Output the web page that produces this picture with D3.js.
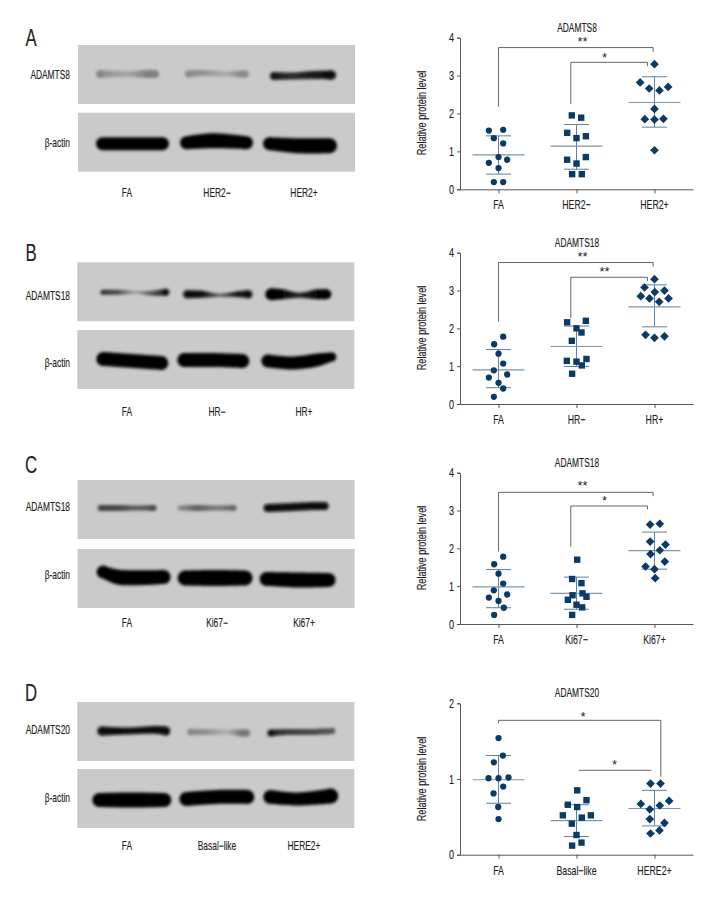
<!DOCTYPE html>
<html><head><meta charset="utf-8">
<script src="https://cdn.jsdelivr.net/npm/d3@7"></script>
<style>
html,body{margin:0;padding:0;background:#fff}
svg{display:block}
text{font-family:"Liberation Sans",Arimo,sans-serif;fill:#1f1f1f;stroke:#1f1f1f;stroke-width:.15px}
</style></head><body>
<svg id="c" width="720" height="900"></svg>
<script>
// ---------- Scatter data ----------
const catsA = ["FA","HER2−","HER2+"], catsB = ["FA","HR−","HR+"], catsC = ["FA","Ki67−","Ki67+"], catsD = ["FA","Basal−like","HERE2+"];
const titles = ["ADAMTS8","ADAMTS18","ADAMTS18","ADAMTS20"];
const letters = ["A","B","C","D"];

const a0 = [1.55,1.57,1.35,1.21,.85,.70,.78,.56,.19,.19];
const a1 = [1.95,1.89,1.49,1.35,1.40,.85,.78,.68,.40,.40];
const a2 = [3.30,2.82,2.66,2.61,2.70,2.12,1.85,1.84,1.86,1.03];
const a0j = [-.124,.06,-.06,.06,0,-.124,.111,0,-.06,.06];
const a1j = [-.06,.06,-.12,0,.12,.12,-.12,0,-.056,.068];
const a2j = [0,-.184,-.068,.064,.175,0,-.124,0,.115,0];

const b0 = [1.78,1.58,1.33,1.07,.89,.70,.78,.56,.41,.19];
const b1 = [2.16,2.20,2.00,1.89,1.67,1.19,1.14,1.12,1.02,.80];
const b2 = [3.30,3.08,3.00,2.96,2.85,2.79,2.79,2.70,1.83,1.79,1.75];
const b0j = [.06,-.056,0,.06,-.06,-.124,.111,0,.06,-.06];
const b1j = [-.12,.12,0,.064,-.06,.128,-.124,0,.068,-.056];
const b2j = [0,-.128,.128,.004,-.175,-.064,.18,.06,-.115,.128,0];

const c0 = [1.78,1.58,1.33,1.07,.89,.70,.78,.61,.43,.24];
const c1 = [1.70,1.19,1.08,.76,.81,.72,.64,.51,.44,.24];
const c2 = [2.63,2.65,2.18,2.10,1.95,1.85,1.65,1.52,1.45,1.21];
const c0j = [.06,-.056,0,.06,-.06,-.124,.111,0,.068,-.056];
const c1j = [.009,-.056,.064,-.051,.077,.128,-.111,0,.073,-.056];
const c2j = [-.056,.068,-.056,.141,.068,-.051,.132,-.115,0,.009];

const d0 = [1.54,1.31,1.22,1.01,1.01,1.02,.90,.81,.63,.47];
const d1 = [.85,.72,.66,.63,.52,.52,.49,.41,.26,.16,.12];
const d2 = [.94,.94,.71,.67,.65,.60,.47,.42,.32,.28];
const d0j = [0,.056,-.06,-.128,0,.128,.06,-.064,-.004,0];
const d1j = [.009,.128,-.111,.009,-.175,.184,.068,-.06,0,.064,-.056];
const d2j = [-.051,.077,.188,-.175,.068,-.06,-.06,.128,.064,-.051];

// mean, mean+SD, mean-SD per group
const aStats = [[.91,1.41,.40],[1.14,1.71,.53],[2.29,2.97,1.64]];
const bStats = [[.90,1.44,.43],[1.52,2.06,.99],[2.57,3.15,2.04]];
const cStats = [[.98,1.44,.43],[.81,1.24,.39],[1.94,2.43,1.45]];
const dStats = [[.99,1.31,.68],[.45,.66,.24],[.61,.85,.38]];

const yMaxes = [4,4,4,2];
const yTicks = [[0,1,2,3,4],[0,1,2,3,4],[0,1,2,3,4],[0,1,2]];

// brackets: left group, left offset, left end value, top value, right group, right offset, right end value, stars, star offset from group 1, star value
const aBr = [[0,0,2.18,3.74,2,-.017,3.63,"**",.077,3.92],[1,-.073,2.25,3.35,2,-.09,3.25,"*",.36,3.50]];
const bBr = [[0,0,2.18,3.74,2,-.017,3.63,"**",.077,3.91],[1,-.073,2.26,3.35,2,-.09,3.25,"**",.36,3.52]];
const cBr = [[0,0,1.92,3.48,2,-.017,3.38,"**",.077,3.67],[1,-.073,2.04,3.12,2,-.09,3.03,"*",.36,3.28]];
const dBr = [[0,0,1.735,1.775,2,.081,1.03,"*",.085,1.837],[1,.03,1.115,1.115,2,-.038,1.115,"*",.487,1.198]];

// ---------- Blot bands: nodes are [x, y, thickness, gray] in blot units ----------
const blotTopA = [
 [[18,29,8,135],[30,29,7,150],[50,29,6,165],[70,29,8,125],[81,29,8,130]],
 [[107,29,7,135],[125,28,6,145],[148,29,5,170],[165,29,7,130],[171,29,7,140]],
 [[192,31,8,25],[215,31,7,45],[235,30,8,25],[258,30,9,8]]];
const blotBotA = [
 [[18,31,13,5],[50,31,13,5],[91,31,13,5]],
 [[102,30,13,5],[135,28,15,5],[175,30,13,5]],
 [[185,31,13,5],[220,33,15,5],[259,33,15,5]]];
const blotTopB = [
 [[23,30,5,50],[40,30,5,70],[58,30,3,160],[75,31,5,80],[92,30,7,15]],
 [[106,32,8,10],[125,32,7,15],[142,33,3,90],[160,32,6,25],[175,32,8,10]],
 [[188,32,12,5],[205,32,10,5],[222,33,5,35],[240,32,10,5],[254,32,10,5]]];
const blotBotB = [
 [[19,29,14,5],[55,31,14,5],[91,33,14,5]],
 [[100,30,14,5],[136,30,14,5],[172,31,14,5]],
 [[184,31,13,5],[215,33,13,5],[240,30,13,5],[259,27,9,5]]];
const blotTopC = [
 [[20,28,6,65],[40,28,6,70],[60,28,5,90],[79,28,6,70]],
 [[100,28,5,135],[120,28,6,95],[140,28,5,120],[159,28,6,100]],
 [[186,28,8,10],[215,27,8,15],[235,26,8,10],[251,26,8,10]]];
const blotBotC = [
 [[19,23,13,5],[40,28,15,5],[93,28,14,5]],
 [[100,29,15,5],[137,29,16,5],[175,29,15,5]],
 [[182,30,14,5],[220,31,15,5],[258,31,14,5]]];
const blotTopD = [
 [[20,29,9,10],[50,29,7,15],[80,28,8,8],[93,29,9,8]],
 [[110,30,6,130],[130,30,6,145],[150,30,5,175],[165,31,7,110],[173,31,7,120]],
 [[190,31,7,25],[210,30,6,60],[235,30,6,70],[258,29,6,85]]];
const blotBotD = [
 [[15,31,14,5],[55,31,15,5],[94,31,14,5]],
 [[102,30,14,5],[140,28,14,5],[177,28,14,5]],
 [[186,28,14,5],[220,30,13,5],[261,27,15,5]]];

const blotLabels = ["ADAMTS8","ADAMTS18","ADAMTS18","ADAMTS20"];
const laneX = [127,217,304];

// ---------- Layout ----------
const rows = [
 {i:0,cats:catsA,vals:[a0,a1,a2],jit:[a0j,a1j,a2j],stats:aStats,br:aBr,blotT:blotTopA,blotB:blotBotA,
  yr:[189.3,37.7],title:28,xlab:205,ylab:113,bt:45,bb:112.7,lt:75,lb:143,bl:193,bl0:78,letter:38},
 {i:1,cats:catsB,vals:[b0,b1,b2],jit:[b0j,b1j,b2j],stats:bStats,br:bBr,blotT:blotTopB,blotB:blotBotB,
  yr:[404,252.7],title:243,xlab:420,ylab:328,bt:262.3,bb:330,lt:296,lb:363,bl:412,bl0:77.3,letter:253},
 {i:2,cats:catsC,vals:[c0,c1,c2],jit:[c0j,c1j,c2j],stats:cStats,br:cBr,blotT:blotTopC,blotB:blotBotC,
  yr:[624,472.7],title:463,xlab:640,ylab:548,bt:480,bb:549,lt:507,lb:575,bl:623,bl0:77.6,letter:465},
 {i:3,cats:catsD,vals:[d0,d1,d2],jit:[d0j,d1j,d2j],stats:dStats,br:dBr,blotT:blotTopD,blotB:blotBotD,
  yr:[854.7,703.3],title:693,xlab:871,ylab:779,bt:702,bb:769,lt:730,lb:798,bl:846,bl0:77.3,letter:693}
];
const svg = d3.select("#c");
const defs = svg.append("defs");
defs.append("filter").attr("id","blur").attr("x","-15%").attr("y","-80%").attr("width","130%").attr("height","260%")
  .append("feGaussianBlur").attr("stdDeviation",1.4);
defs.append("filter").attr("id","soft").attr("x","-2%").attr("y","-5%").attr("width","104%").attr("height","110%")
  .append("feGaussianBlur").attr("stdDeviation",0.5);

const markColor="#0b3a66", whisker="#5f80a0", meanColor="#7b96b0", brColor="#555";
const markers=[d3.symbol(d3.symbolCircle,31)(),d3.symbol(d3.symbolSquare,41)(),d3.symbol(d3.symbolSquare,38)()];
const NARROW=.7;

// narrow label: the reference face is a condensed one
function label(g,x,y,str,size,anchor,rot){
  return g.append("text").attr("transform",`translate(${x},${y})`+(rot?` rotate(${rot})`:"")+` scale(${NARROW},1)`)
    .attr("dy","0.35em").attr("text-anchor",anchor||"middle").style("font-size",size+"px").text(str);
}

let gid=0;
function blot(g,x0,y0,bands){
  const W=277,H=59;
  const sx=d3.scaleLinear([0,W],[x0,x0+W]), sy=d3.scaleLinear([0,H],[y0,y0+H]);
  g.append("rect").attr("x",sx(0)).attr("y",sy(0)).attr("width",W).attr("height",H).attr("fill","#cacaca").attr("filter","url(#soft)");
  const area=d3.area().x(d=>sx(d[0])).y0(d=>sy(d[1]-d[2]/2)).y1(d=>sy(d[1]+d[2]/2)).curve(d3.curveCatmullRom);
  bands.forEach(nodes=>{
    const id="g"+(gid++);
    const n0=nodes[0], n1=nodes[nodes.length-1];
    const trimmed=nodes.map((n,i)=> i==0?[n[0]+n[2]/2,n[1],n[2],n[3]] : i==nodes.length-1?[n[0]-n[2]/2,n[1],n[2],n[3]] : n);
    const a=n0[0],b=n1[0];
    const lg=defs.append("linearGradient").attr("id",id).attr("gradientUnits","userSpaceOnUse")
      .attr("x1",sx(a)).attr("x2",sx(b)).attr("y1",0).attr("y2",0);
    nodes.forEach(n=>{const v=Math.round(n[3]);lg.append("stop").attr("offset",(n[0]-a)/(b-a)).attr("stop-color",`rgb(${v},${v},${v})`);});
    const bg=g.append("g").attr("filter","url(#blur)");
    bg.append("path").attr("d",area(trimmed)).attr("fill",`url(#${id})`);
    [trimmed[0],trimmed[trimmed.length-1]].forEach(n=>
      bg.append("circle").attr("cx",sx(n[0])).attr("cy",sy(n[1])).attr("r",n[2]/2).attr("fill",`rgb(${n[3]},${n[3]},${n[3]})`));
  });
}

rows.forEach(r=>{
  const g=svg.append("g");
  // left part
  label(g,31,r.letter,letters[r.i],24);
  blot(g,r.bl0,r.bt,r.blotT);
  blot(g,r.bl0,r.bb,r.blotB);
  label(g,70,r.lt,blotLabels[r.i],12,"end");
  label(g,70,r.lb,"β-actin",12,"end");
  r.cats.forEach((c,k)=>label(g,laneX[k],r.bl,c,12));

  // scatter
  const x=d3.scalePoint(r.cats,[460,693]).padding(0.494);
  const y=d3.scaleLinear([0,yMaxes[r.i]],r.yr);
  const step=x.step();
  const px=(k,o)=>x(r.cats[k])+o*step;

  const ax=g.append("g").attr("transform",`translate(460,0)`)
    .call(d3.axisLeft(y).tickValues(yTicks[r.i]).tickFormat("").tickSize(3));
  const bx=g.append("g").attr("transform",`translate(0,${r.yr[0]})`)
    .call(d3.axisBottom(x).tickFormat("").tickSize(4).tickSizeOuter(0));
  [ax,bx].forEach(s=>{s.selectAll("path,line").attr("stroke","#444").attr("stroke-width",.9);});
  yTicks[r.i].forEach(t=>label(g,454,y(t),t,13,"end"));
  r.cats.forEach(c=>label(g,x(c),r.xlab,c,12.5));
  label(g,577,r.title,titles[r.i],12);
  label(g,421,r.ylab,"Relative protein level",13,"middle",-90);

  // brackets
  r.br.forEach(b=>{
    const xl=px(b[0],b[1]), xr=px(b[4],b[5]);
    const line=d3.line().x(d=>d[0]).y(d=>y(d[1]));
    g.append("path").attr("d",line([[xl,b[2]],[xl,b[3]],[xr,b[3]],[xr,b[6]]]))
      .attr("fill","none").attr("stroke",brColor).attr("stroke-width",.9);
    g.append("text").attr("x",px(1,b[8])).attr("y",y(b[9])+5).attr("text-anchor","middle").style("font-size","13px").style("stroke","none").text(b[7]);
  });

  // groups
  r.vals.forEach((vs,k)=>{
    const cx=x(r.cats[k]), [m,u,l]=r.stats[k];
    const gg=g.append("g").attr("stroke",whisker).attr("stroke-width",1).attr("fill","none");
    gg.append("line").attr("x1",cx).attr("x2",cx).attr("y1",y(u)).attr("y2",y(l));
    gg.append("line").attr("x1",cx-26).attr("x2",cx+26).attr("y1",y(m)).attr("y2",y(m)).attr("stroke",meanColor).attr("stroke-width",1.2);
    [u,l].forEach(v=>gg.append("line").attr("x1",cx-12.5).attr("x2",cx+12.5).attr("y1",y(v)).attr("y2",y(v)));
    g.append("g").selectAll("path").data(vs).join("path")
      .attr("d",markers[k]).attr("fill",markColor)
      .attr("transform",(v,i)=>`translate(${cx+r.jit[k][i]*step},${y(v)})`+(k==2?" rotate(45)":""));
  });
});
</script>
</body></html>
